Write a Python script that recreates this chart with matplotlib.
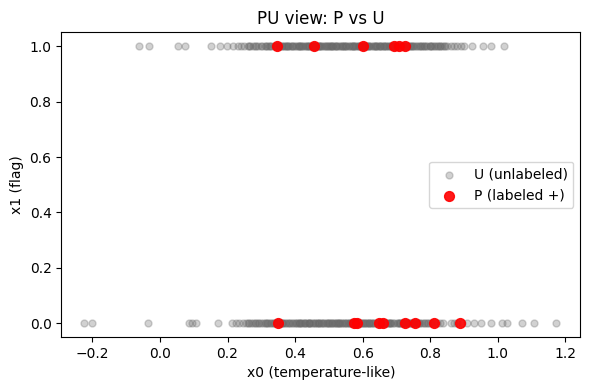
import matplotlib
matplotlib.use("Agg")
import matplotlib.pyplot as plt

# Unlabeled points, flag = 1 (x0 values)
u_top = [-0.063, -0.031, 0.054, 0.075, 0.152, 0.179, 0.199, 0.215, 0.23, 0.24,
         0.25, 0.26, 0.265, 0.275, 0.285, 0.29, 0.30, 0.31, 0.315, 0.325, 0.33,
         0.34, 0.345, 0.355, 0.36, 0.37, 0.375, 0.38, 0.39, 0.395, 0.40, 0.41,
         0.415, 0.42, 0.43, 0.435, 0.44, 0.45, 0.455, 0.46, 0.47, 0.475, 0.48,
         0.49, 0.495, 0.50, 0.505, 0.51, 0.52, 0.525, 0.53, 0.54, 0.545, 0.55,
         0.56, 0.565, 0.57, 0.58, 0.585, 0.59, 0.60, 0.61, 0.615, 0.62, 0.63,
         0.635, 0.64, 0.65, 0.655, 0.66, 0.67, 0.675, 0.68, 0.69, 0.70, 0.71,
         0.72, 0.73, 0.74, 0.745, 0.75, 0.76, 0.77, 0.775, 0.78, 0.79, 0.80,
         0.81, 0.815, 0.82, 0.83, 0.84, 0.85, 0.86, 0.87, 0.88, 0.89, 0.90,
         0.924, 0.957, 0.980, 1.019,
         0.262, 0.282, 0.302, 0.318, 0.322, 0.338, 0.352, 0.362, 0.368, 0.378,
         0.386, 0.392, 0.402, 0.408, 0.418, 0.424, 0.432, 0.438, 0.446, 0.452,
         0.462, 0.468, 0.478, 0.484, 0.488, 0.498, 0.502, 0.512, 0.518, 0.522,
         0.532, 0.538, 0.548, 0.552, 0.558, 0.568, 0.572, 0.578, 0.588, 0.592,
         0.598, 0.606, 0.612, 0.618, 0.626, 0.632, 0.642, 0.648, 0.652, 0.662,
         0.668, 0.678, 0.684, 0.692, 0.698, 0.704, 0.712, 0.718, 0.724, 0.732,
         0.738, 0.752, 0.758, 0.768, 0.782, 0.788, 0.798, 0.806, 0.822, 0.828,
         0.835, 0.845, 0.372, 0.412, 0.442, 0.472, 0.508, 0.542, 0.574, 0.604,
         0.638, 0.664, 0.688, 0.716, 0.742, 0.772, 0.802]

# Unlabeled points, flag = 0
u_bot = [-0.224, -0.200, -0.036, 0.085, 0.095, 0.107, 0.171, 0.214, 0.225,
         0.235, 0.245, 0.255, 0.26, 0.27, 0.28, 0.285, 0.29, 0.30, 0.31, 0.315,
         0.32, 0.33, 0.335, 0.34, 0.35, 0.36, 0.365, 0.37, 0.38, 0.385, 0.39,
         0.40, 0.405, 0.41, 0.42, 0.425, 0.43, 0.44, 0.445, 0.45, 0.46, 0.465,
         0.47, 0.48, 0.485, 0.49, 0.50, 0.505, 0.51, 0.52, 0.525, 0.53, 0.54,
         0.545, 0.55, 0.56, 0.565, 0.57, 0.58, 0.59, 0.60, 0.605, 0.61, 0.62,
         0.625, 0.63, 0.64, 0.65, 0.66, 0.67, 0.675, 0.68, 0.69, 0.70, 0.71,
         0.715, 0.72, 0.73, 0.74, 0.75, 0.76, 0.765, 0.77, 0.78, 0.79, 0.80,
         0.805, 0.82, 0.838, 0.862, 0.87, 0.88, 0.895, 0.91, 0.93, 0.95,
         0.981, 1.012, 1.027, 1.070, 1.108, 1.171,
         0.262, 0.276, 0.292, 0.304, 0.318, 0.326, 0.338, 0.346, 0.354, 0.362,
         0.374, 0.382, 0.394, 0.402, 0.414, 0.418, 0.428, 0.436, 0.442, 0.454,
         0.458, 0.468, 0.476, 0.482, 0.494, 0.498, 0.508, 0.514, 0.518, 0.528,
         0.534, 0.538, 0.548, 0.554, 0.562, 0.568, 0.574, 0.584, 0.594, 0.598,
         0.608, 0.614, 0.618, 0.628, 0.634, 0.644, 0.648, 0.654, 0.664, 0.668,
         0.678, 0.684, 0.694, 0.704, 0.708, 0.718, 0.724, 0.734, 0.744, 0.748,
         0.756, 0.768, 0.774, 0.784, 0.794, 0.812, 0.828, 0.41, 0.44, 0.47,
         0.50, 0.53, 0.56, 0.59, 0.62, 0.65, 0.68, 0.71, 0.74]

# Positive labeled points
p_top = [0.347, 0.457, 0.602, 0.693, 0.708, 0.726]
p_bot = [0.350, 0.575, 0.583, 0.647, 0.659, 0.726, 0.755, 0.810, 0.887]

fig = plt.figure(figsize=(5.9, 3.9), dpi=100)
ax = fig.add_axes([0.1039, 0.1359, 0.9836 - 0.1039, 0.9167 - 0.1359])

ux = u_top + u_bot
uy = [1] * len(u_top) + [0] * len(u_bot)
px = p_top + p_bot
py = [1] * len(p_top) + [0] * len(p_bot)

ax.scatter(ux, uy, s=25, c="dimgray", alpha=0.3, label="U (unlabeled)")
ax.scatter(px, py, s=50, c="red", alpha=0.9, label="P (labeled +)")

ax.set_title("PU view: P vs U")
ax.set_xlabel("x0 (temperature-like)")
ax.set_ylabel("x1 (flag)")
ax.set_xlim(-0.292, 1.244)
ax.set_ylim(-0.05, 1.05)
ax.legend(loc="center right")

fig.savefig("out.png")
